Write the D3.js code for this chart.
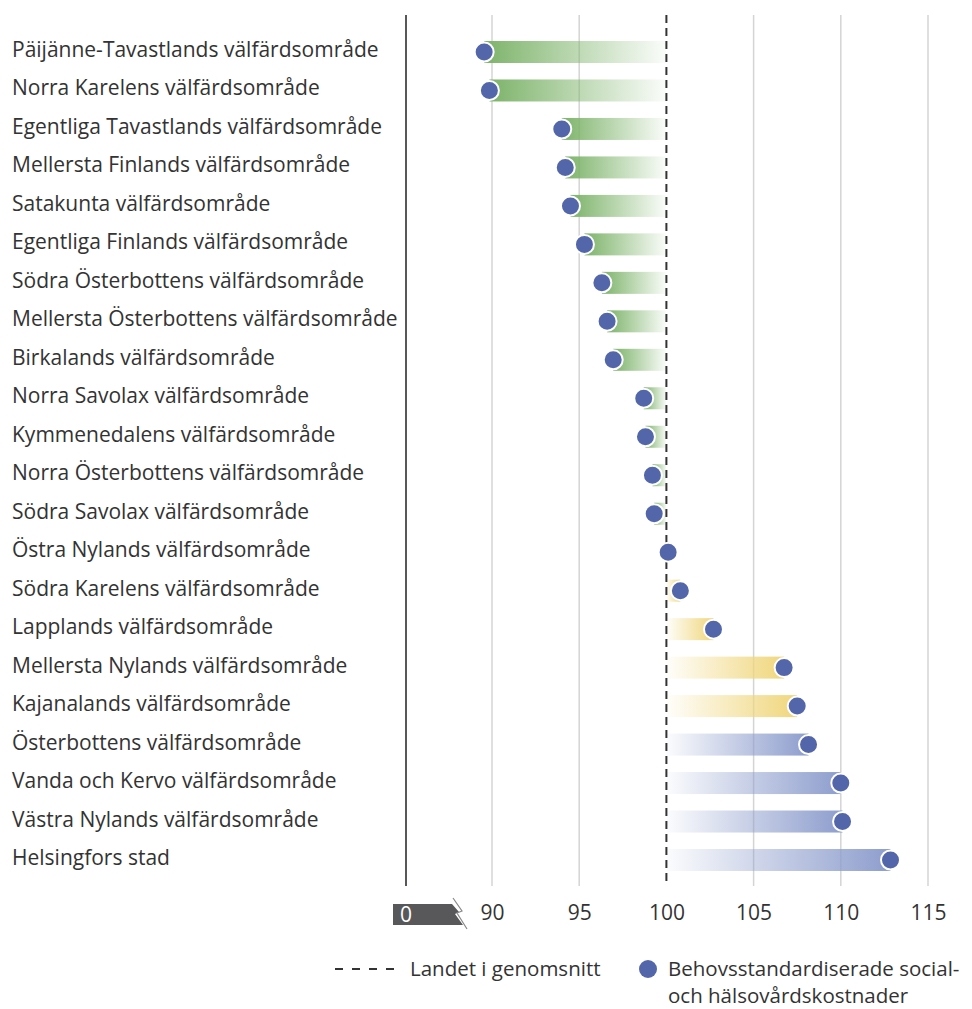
<!DOCTYPE html>
<html><head><meta charset="utf-8">
<script src="https://cdn.jsdelivr.net/npm/d3@7"></script>
<style>body{margin:0;background:#fff}svg{display:block}</style>
</head><body>
<svg id="c" width="972" height="1009"></svg>
<script>
const categories = ["Päijänne-Tavastlands välfärdsområde","Norra Karelens välfärdsområde","Egentliga Tavastlands välfärdsområde","Mellersta Finlands välfärdsområde","Satakunta välfärdsområde","Egentliga Finlands välfärdsområde","Södra Österbottens välfärdsområde","Mellersta Österbottens välfärdsområde","Birkalands välfärdsområde","Norra Savolax välfärdsområde","Kymmenedalens välfärdsområde","Norra Österbottens välfärdsområde","Södra Savolax välfärdsområde","Östra Nylands välfärdsområde","Södra Karelens välfärdsområde","Lapplands välfärdsområde","Mellersta Nylands välfärdsområde","Kajanalands välfärdsområde","Österbottens välfärdsområde","Vanda och Kervo välfärdsområde","Västra Nylands välfärdsområde","Helsingfors stad"];
const values = [89.55,89.85,94.0,94.2,94.5,95.3,96.3,96.6,96.95,98.7,98.8,99.2,99.3,100.1,100.8,102.7,106.75,107.5,108.15,110.0,110.1,112.85];
const groups = ["low","low","low","low","low","low","low","low","low","low","low","low","low","mid","mid","mid","mid","mid","high","high","high","high"];
const tickValues = [90,95,100,105,110,115];
const average = 100;
const legendLabels = ["Landet i genomsnitt","Behovsstandardiserade social-","och hälsovårdskostnader"];

const FONT = "'Open Sans', 'Noto Sans', sans-serif";
const FS = 21, LFS = 20.5;
const colors = {low:"#7db36a", mid:"#f0d67c", high:"#8d9dcd"};
const svg = d3.select("#c");
const x = d3.scaleLinear().domain([90,115]).range([492,928]);
const y = d3.scalePoint().domain(categories).range([52,860]);
const yTop = 15, yBot = 886;

// gridlines
svg.append("g").selectAll("line").data(tickValues.filter(t=>t!==average)).join("line")
  .attr("x1",d=>x(d)).attr("x2",d=>x(d)).attr("y1",yTop).attr("y2",yBot)
  .attr("stroke","#d4d4d4").attr("stroke-width",1.5);

// gradients
const defs = svg.append("defs");
const data = categories.map((c,i)=>({c,v:values[i],g:groups[i],i}));
data.forEach(d=>{
  const lg = defs.append("linearGradient").attr("id","g"+d.i).attr("x1","0").attr("x2","1").attr("y1","0").attr("y2","0");
  const col = colors[d.g];
  if (d.v < average) {
    lg.append("stop").attr("offset","0").attr("stop-color",col).attr("stop-opacity",1);
    lg.append("stop").attr("offset","1").attr("stop-color",col).attr("stop-opacity",0.03);
  } else {
    lg.append("stop").attr("offset","0").attr("stop-color",col).attr("stop-opacity",0.03);
    lg.append("stop").attr("offset","1").attr("stop-color",col).attr("stop-opacity",1);
  }
});
const barH = 22;
svg.append("g").selectAll("rect").data(data).join("rect")
  .attr("x",d=>Math.min(x(d.v),x(average)))
  .attr("width",d=>Math.abs(x(d.v)-x(average)))
  .attr("y",d=>y(d.c)-barH/2).attr("height",barH)
  .attr("fill",d=>"url(#g"+d.i+")");

// average dashed line
svg.append("line").attr("x1",x(average)).attr("x2",x(average)).attr("y1",yTop).attr("y2",yBot)
  .attr("stroke","#333").attr("stroke-width",2).attr("stroke-dasharray","8,5");

// left axis line
svg.append("line").attr("x1",406).attr("x2",406).attr("y1",yTop).attr("y2",yBot)
  .attr("stroke","#58585a").attr("stroke-width",2);

// dots
svg.append("g").selectAll("circle").data(data).join("circle")
  .attr("cx",d=>x(d.v)).attr("cy",d=>y(d.c)).attr("r",9.5)
  .attr("fill","#5366aa").attr("stroke","#fff").attr("stroke-width",2);

// category labels
svg.append("g").selectAll("text").data(data).join("text")
  .attr("x",12).attr("y",d=>y(d.c)+5)
  .attr("font-family",FONT).attr("font-size",FS).attr("fill","#333")
  .text(d=>d.c);

// x axis
const ax = svg.append("g").attr("transform","translate(0,900)")
  .call(d3.axisBottom(x).tickValues(tickValues).tickSize(0).tickPadding(0));
ax.select(".domain").remove();
ax.selectAll("text").attr("dy",null).attr("y",20).attr("font-family",FONT).attr("font-size",FS).attr("fill","#333");

// broken axis marker
const brk = svg.append("g");
brk.append("path").attr("d","M393,904 L452,904 L459,912 L455,914 L463,925 L393,925 Z").attr("fill","#58585a");
brk.append("path").attr("d","M453,898 L462,911 L457,913 L467,929").attr("fill","none").attr("stroke","#8a8a8a").attr("stroke-width",1.2);
brk.append("text").attr("x",400).attr("y",922).attr("font-family",FONT).attr("font-size",FS).attr("fill","#fff").text("0");

// legend
svg.append("line").attr("x1",335).attr("x2",400).attr("y1",969).attr("y2",969)
  .attr("stroke","#333").attr("stroke-width",2).attr("stroke-dasharray","8,9");
svg.append("text").attr("x",410).attr("y",975.5).attr("font-family",FONT).attr("font-size",LFS).attr("fill","#333").text(legendLabels[0]);
svg.append("circle").attr("cx",648).attr("cy",969).attr("r",9).attr("fill","#5366aa");
svg.append("text").attr("x",668).attr("y",975.5).attr("font-family",FONT).attr("font-size",LFS).attr("fill","#333").text(legendLabels[1]);
svg.append("text").attr("x",668).attr("y",1003).attr("font-family",FONT).attr("font-size",LFS).attr("fill","#333").text(legendLabels[2]);
</script>
</body></html>
